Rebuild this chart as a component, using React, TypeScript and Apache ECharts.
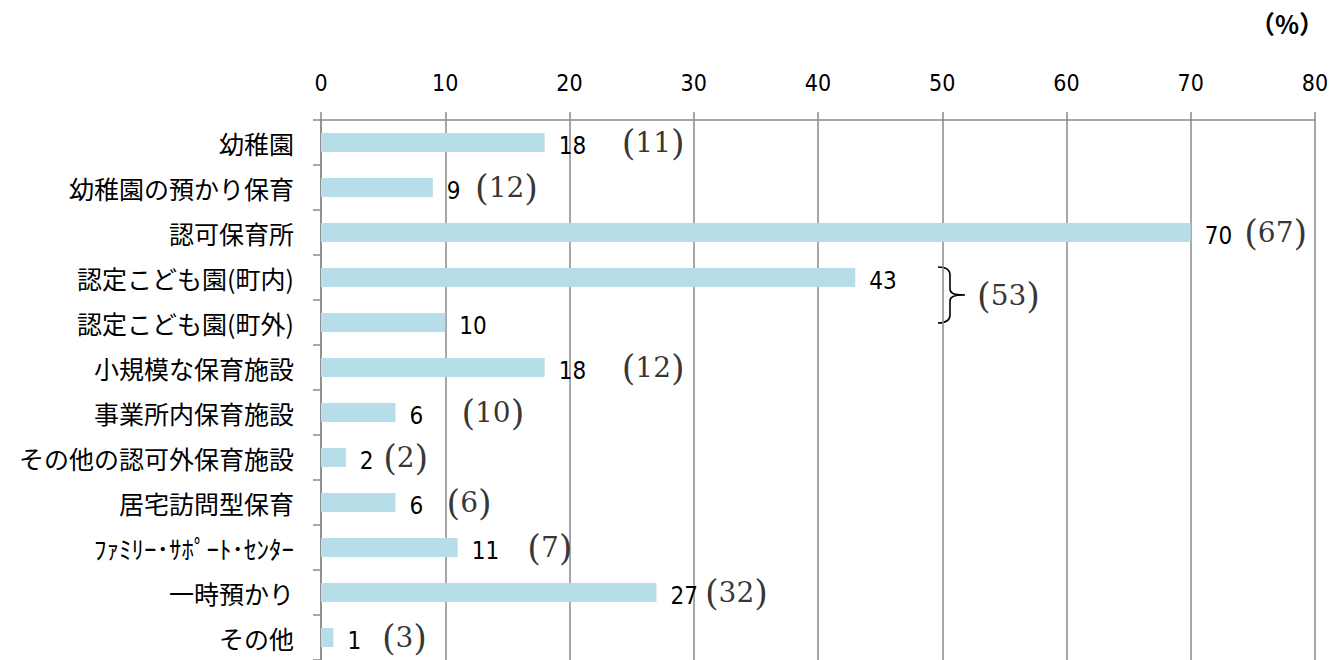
import React, { useEffect, useRef } from "react";
import * as echarts from "echarts";

const categories = [
  "幼稚園",
  "幼稚園の預かり保育",
  "認可保育所",
  "認定こども園(町内)",
  "認定こども園(町外)",
  "小規模な保育施設",
  "事業所内保育施設",
  "その他の認可外保育施設",
  "居宅訪問型保育",
  "ﾌｧﾐﾘｰ･ｻﾎﾟｰﾄ･ｾﾝﾀｰ",
  "一時預かり",
  "その他",
];
// current survey (%)
const currentValues = [18, 9, 70, 43, 10, 18, 6, 2, 6, 11, 27, 1];
// previous survey (%), shown in parentheses
const previousValues: (number | null)[] = [11, 12, 67, 53, null, 12, 10, 2, 6, 7, 32, 3];
// where (on the value axis) each parenthesised previous value is written
const previousLabelAt: (number | null)[] = [24.2, 12.4, 74.3, 52.8, null, 24.2, 11.3, 5.0, 10.1, 16.6, 30.9, 4.9];
const axisMin = 0;
const axisMax = 80;
const axisInterval = 10;
const unitLabel = "（%）";

const NUM_FONT = "'DejaVu Sans Condensed', 'Liberation Sans Narrow', 'Liberation Sans', sans-serif";
const JP_FONT = "'Noto Sans CJK JP', sans-serif";
const SERIF_FONT = "'DejaVu Serif', serif";
const GRID_COLOR = "#8a8a8a";

const bracePath =
  "M0,0 C8,0 12,2 12,8 L12,22 C12,26 15,28 27,28 C15,28 12,30 12,34 L12,48 C12,54 8,56 0,56";
echarts.graphic.registerShape("brace", echarts.graphic.extendPath(bracePath, {}));

export default function App() {
  const ref = useRef<HTMLDivElement>(null);
  useEffect(() => {
    if (!ref.current) return;
    const chart = echarts.init(ref.current, undefined, { renderer: "svg" });

    const prevData: any[] = [];
    previousValues.forEach((v, i) => {
      if (v === null || previousLabelAt[i] === null) return;
      prevData.push({
        value: [previousLabelAt[i], categories[i]],
        label: {
          formatter: "{p|(}{d|" + v + "}{p|)}",
          offset: i === 3 ? [0, 18] : [0, 0],
        },
      });
    });

    chart.setOption({
      animation: false,
      backgroundColor: "#ffffff",
      grid: { left: 321, right: 29, top: 120, bottom: 0, containLabel: false },
      xAxis: {
        type: "value",
        position: "top",
        min: axisMin,
        max: axisMax,
        interval: axisInterval,
        axisLine: { show: true, lineStyle: { color: GRID_COLOR, width: 1.5 } },
        axisTick: { show: true, inside: false, length: 8, lineStyle: { color: GRID_COLOR, width: 1.5 } },
        splitLine: { show: true, lineStyle: { color: GRID_COLOR, width: 1.5 } },
        axisLabel: { margin: 26, fontFamily: NUM_FONT, fontSize: 23, color: "#000" },
      },
      yAxis: {
        type: "category",
        inverse: true,
        data: categories,
        axisLine: { show: true, lineStyle: { color: GRID_COLOR, width: 1.5 } },
        axisTick: { show: true, length: 8, alignWithLabel: false, lineStyle: { color: GRID_COLOR, width: 1.5 } },
        axisLabel: { margin: 27, fontFamily: JP_FONT, fontSize: 25, color: "#000" },
      },
      series: [
        {
          type: "bar",
          data: currentValues,
          barWidth: 19,
          itemStyle: { color: "#b7dee8" },
          label: {
            show: true,
            position: "right",
            distance: 14,
            offset: [0, 3],
            fontFamily: NUM_FONT,
            fontSize: 24,
            color: "#000",
          },
          silent: true,
        },
        {
          type: "scatter",
          data: prevData,
          symbolSize: 0,
          silent: true,
          label: {
            show: true,
            position: "right",
            distance: 0,
            color: "#000",
            rich: {
              p: { fontFamily: SERIF_FONT, fontSize: 35, color: "#000" },
              d: { fontFamily: SERIF_FONT, fontSize: 28, color: "#000" },
            },
          },
        },
      ],
      graphic: [
        {
          type: "text",
          right: 20,
          top: 10,
          style: { text: unitLabel, fontFamily: JP_FONT, fontSize: 25, fontWeight: "bold", fill: "#000" },
        },
        {
          type: "brace",
          x: 938,
          y: 267,
          style: { fill: "none", stroke: "#000", lineWidth: 1.6 },
        },
      ],
    });
    return () => chart.dispose();
  }, []);
  return (
    <div
      ref={ref}
      style={{ position: "fixed", left: 0, top: 0, width: 1344, height: 660, background: "#fff" }}
    />
  );
}
